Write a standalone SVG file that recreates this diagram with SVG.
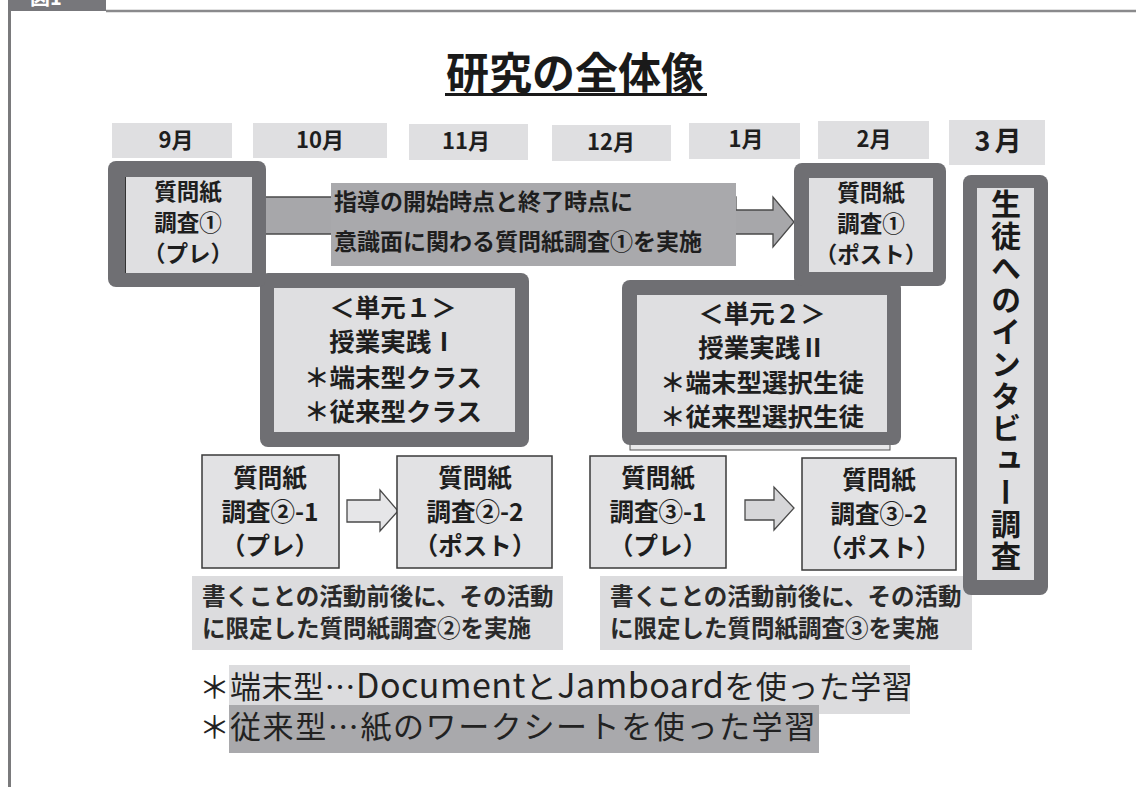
<svg xmlns="http://www.w3.org/2000/svg" width="1136" height="787" viewBox="0 0 1136 787">
<style>
.jp{font-family:"Noto Sans CJK JP","Noto Sans",sans-serif;}
.b{font-weight:bold;}
.month{fill:#dfdfe1;}
.mt{font-size:22px;fill:#1e1e1e;text-anchor:middle;}
.outer{fill:#6f6f73;}
.inner{fill:#dfdfe1;}
.t20{font-size:22.5px;fill:#1e1e1e;text-anchor:middle;}
.t25{font-size:25.5px;fill:#1e1e1e;text-anchor:middle;}
.t24{font-size:24.5px;fill:#1e1e1e;text-anchor:middle;}
.sbox{fill:#e2e2e4;stroke:#3a3a3a;stroke-width:1.5;}
.note{fill:#dcdcde;}
.nt{font-size:23.5px;fill:#2a2a2a;}
.arr{stroke:#4a4a4a;stroke-width:1.3;}
</style>
<rect x="0" y="0" width="1136" height="787" fill="#ffffff"/>
<g id="frame">
<rect x="8" y="0" width="98" height="11" fill="#77777b"/>
<text x="30" y="5" class="jp b" font-size="20" fill="#ffffff">図1</text>
<line x1="106" y1="11" x2="1136" y2="11" stroke="#8a8a8c" stroke-width="2.5"/>
<line x1="9.5" y1="10" x2="9.5" y2="787" stroke="#7a7a7c" stroke-width="3"/>
</g>
<g id="title">
<text x="575" y="89" class="jp b" font-size="43" fill="#1a1a1a" text-anchor="middle">研究の全体像</text>
<rect x="445" y="93" width="262" height="3" fill="#1a1a1a"/>
</g>
<g id="months">
<g id="m9"><rect class="month" x="112" y="123" width="120" height="35"/><text class="jp b mt" x="176" y="148">9月</text></g>
<g id="m10"><rect class="month" x="253" y="123" width="134" height="35"/><text class="jp b mt" x="320" y="148">10月</text></g>
<g id="m11"><rect class="month" x="409" y="124" width="119" height="36"/><text class="jp b mt" x="466" y="149">11月</text></g>
<g id="m12"><rect class="month" x="552" y="125" width="119" height="36"/><text class="jp b mt" x="611" y="150">12月</text></g>
<g id="m1"><rect class="month" x="689" y="123" width="111" height="36"/><text class="jp b mt" x="746" y="147">1月</text></g>
<g id="m2"><rect class="month" x="818" y="121" width="111" height="38"/><text class="jp b mt" x="874" y="147">2月</text></g>
<g id="m3"><rect class="month" x="949" y="120" width="96" height="45"/><text class="jp b" x="1000" y="151" font-size="27" fill="#1e1e1e" text-anchor="middle" letter-spacing="4">3月</text></g>
</g>
<g id="connectors">
<polygon class="arr" fill="#a7a7aa" points="262,197 736,197 736,210 773,210 773,197 794,222 773,247 773,234 262,234"/>
<polygon class="arr" fill="#e6e6e8" points="347,500 380,500 380,490 398,511 380,531 380,522 347,522"/>
<polygon class="arr" fill="#d6d6d8" points="745,500 774,500 774,487 794,508 774,530 774,520 745,520"/>
</g>
<g id="arrow-label">
<rect x="331" y="183" width="405" height="83" fill="#a9a9ac"/>
<text class="jp b" x="334" y="210" font-size="23" fill="#1e1e1e">指導の開始時点と終了時点に</text>
<text class="jp b" x="334" y="250" font-size="23" fill="#1e1e1e">意識面に関わる質問紙調査①を実施</text>
</g>
<g id="unit1">
<rect class="outer" x="260" y="273" width="269" height="174" rx="8"/>
<rect class="inner" x="274" y="288" width="241" height="144"/>
<text class="jp b t25" x="393" y="317">＜単元１＞</text>
<text class="jp b t25" x="393" y="351">授業実践Ⅰ</text>
<text class="jp b t25" x="393" y="387">＊端末型クラス</text>
<text class="jp b t25" x="393" y="421">＊従来型クラス</text>
</g>
<g id="survey1-pre">
<rect class="outer" x="108" y="161" width="158" height="126" rx="8"/>
<rect class="inner" x="125" y="177" width="127" height="96"/>
<line x1="125.5" y1="177" x2="125.5" y2="273" stroke="#333" stroke-width="1"/>
<text class="jp b t20" x="188" y="200">質問紙</text>
<text class="jp b t20" x="188" y="231">調査①</text>
<text class="jp b t20" x="188" y="262">（プレ）</text>
</g>
<g id="unit2">
<rect x="630" y="437" width="260" height="13" fill="#e8e8ea" stroke="#555" stroke-width="1"/>
<rect class="outer" x="622" y="280" width="279" height="165" rx="8"/>
<rect class="inner" x="637" y="295" width="250" height="137"/>
<text class="jp b t25" x="762" y="323">＜単元２＞</text>
<text class="jp b t25" x="762" y="357">授業実践Ⅱ</text>
<text class="jp b t25" x="762" y="392">＊端末型選択生徒</text>
<text class="jp b t25" x="762" y="426">＊従来型選択生徒</text>
</g>
<g id="survey1-post">
<rect class="outer" x="794" y="163" width="152" height="123" rx="8"/>
<rect class="inner" x="809" y="178" width="124" height="94"/>
<text class="jp b t20" x="871" y="201">質問紙</text>
<text class="jp b t20" x="871" y="232">調査①</text>
<text class="jp b t20" x="871" y="263">（ポスト）</text>
</g>
<g id="survey2-1">
<rect class="sbox" x="202" y="455" width="137" height="113"/>
<text class="jp b t24" x="270" y="487">質問紙</text>
<text class="jp b t24" x="270" y="521">調査②-1</text>
<text class="jp b t24" x="270" y="555">（プレ）</text>
</g>
<g id="survey2-2">
<rect class="sbox" x="397" y="456" width="155" height="112"/>
<text class="jp b t24" x="475" y="487">質問紙</text>
<text class="jp b t24" x="475" y="521">調査②-2</text>
<text class="jp b t24" x="475" y="555">（ポスト）</text>
</g>
<g id="survey3-1">
<rect class="sbox" x="590" y="456" width="136" height="112"/>
<text class="jp b t24" x="658" y="487">質問紙</text>
<text class="jp b t24" x="658" y="521">調査③-1</text>
<text class="jp b t24" x="658" y="555">（プレ）</text>
</g>
<g id="survey3-2">
<rect class="sbox" x="802" y="458" width="154" height="112"/>
<text class="jp b t24" x="879" y="489">質問紙</text>
<text class="jp b t24" x="879" y="523">調査③-2</text>
<text class="jp b t24" x="879" y="557">（ポスト）</text>
</g>
<g id="note2">
<rect class="note" x="192" y="576" width="371" height="74"/>
<text class="jp b nt" x="202" y="605">書くことの活動前後に、その活動</text>
<text class="jp b nt" x="202" y="637">に限定した質問紙調査②を実施</text>
</g>
<g id="note3">
<rect class="note" x="600" y="576" width="372" height="74"/>
<text class="jp b nt" x="610" y="605">書くことの活動前後に、その活動</text>
<text class="jp b nt" x="610" y="637">に限定した質問紙調査③を実施</text>
</g>
<g id="interview">
<rect class="outer" x="963" y="175" width="85" height="420" rx="8"/>
<rect class="inner" x="977" y="188" width="57" height="392"/>
<text class="jp b" x="1006" y="381" font-size="30" fill="#1a1a1a" writing-mode="vertical-rl" text-anchor="middle" letter-spacing="2">生徒へのインタビュー調査</text>
</g>
<g id="legend">
<rect x="229" y="665" width="681" height="49" fill="#dcdcde"/>
<rect x="229" y="705" width="590" height="48" fill="#a9a9ac"/>
<text class="jp" font-size="31" fill="#222" y="698"><tspan x="199">＊</tspan><tspan x="230" letter-spacing="0.5">端末型…<tspan font-size="34">Document</tspan>と<tspan font-size="34">Jamboard</tspan>を使った学習</tspan></text>
<text class="jp" font-size="31" fill="#222" y="738"><tspan x="199">＊</tspan><tspan x="230" letter-spacing="1.6">従来型…紙のワークシートを使った学習</tspan></text>
</g>
</svg>
